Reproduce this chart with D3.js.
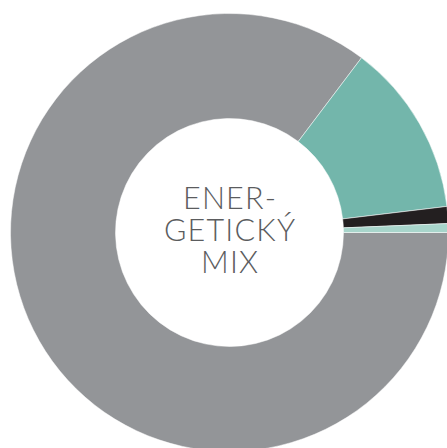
<!DOCTYPE html>
<html lang="cs">
<head>
	<meta charset="utf-8">
	<title>Energetický mix</title>
	<script src="https://cdn.jsdelivr.net/npm/d3@7"></script>
	<style>
		body { margin: 0; background: #fff; }
	</style>
</head>
<body>
	<script>
		// slice order follows the picture: clockwise from 3 o'clock
		var sources = ["A", "B", "C", "D"];
		var shares = [85.3, 12.8, 1.25, 0.65];
		var colors = ["#939598", "#73b6ab", "#231f20", "#a8d5cb"];
		var titleLines = ["ENER-", "GETICKÝ", "MIX"];

		var w = 447, h = 448;
		var cx = 229.5, cy = 232.5;
		var outerR = 219, innerR = 114;

		var svg = d3.select("body").append("svg")
			.attr("width", w)
			.attr("height", h);

		var g = svg.append("g").attr("transform", "translate(" + cx + "," + cy + ")");

		var pie = d3.pie()
			.sort(null)
			.startAngle(Math.PI / 2)
			.endAngle(Math.PI / 2 + 2 * Math.PI)
			.value(function(d) { return d; });

		var arc = d3.arc().innerRadius(innerR).outerRadius(outerR);

		g.selectAll("path")
			.data(pie(shares))
			.enter()
			.append("path")
			.attr("d", arc)
			.attr("fill", function(d, i) { return colors[i]; })
			.attr("stroke", "#fff")
			.attr("stroke-width", 0.5);

		// label in the hole
		var y = d3.scaleLinear().domain([0, titleLines.length - 1]).range([-23.2, 40.2]);
		g.selectAll("text")
			.data(titleLines)
			.enter()
			.append("text")
			.text(function(d) { return d; })
			.attr("x", 0.6)
			.attr("y", function(d, i) { return y(i); })
			.attr("text-anchor", "middle")
			.attr("font-family", "Lato, sans-serif")
			.attr("font-weight", 300)
			.attr("font-size", "30.5px")
			.attr("letter-spacing", "1.2px")
			.attr("fill", "#5b5c5e");
	</script>
</body>
</html>
